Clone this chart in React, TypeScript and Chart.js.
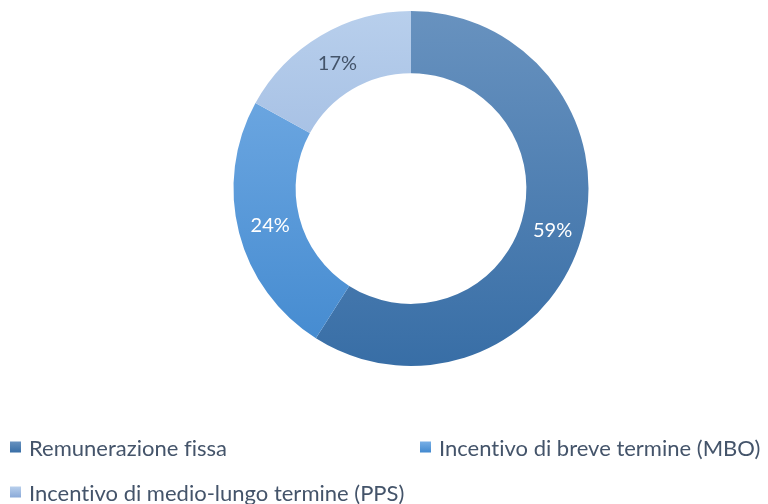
import React, { useEffect, useRef } from "react";
import { Chart, registerables } from "chart.js";

Chart.register(...registerables);

const categories = [
  "Remunerazione fissa",
  "Incentivo di breve termine (MBO)",
  "Incentivo di medio-lungo termine (PPS)",
];
const values = [59, 24, 17];
const labelColors = ["#ffffff", "#ffffff", "#44546a"];
const gradientStops: [string, string][] = [
  ["#6892bf", "#386ea6"],
  ["#78afe6", "#4289cf"],
  ["#b8cfec", "#8aa9d8"],
];

const FONT = "Lato, 'Open Sans', 'DejaVu Sans', sans-serif";

const labelPlugin = {
  id: "sliceLabels",
  afterDatasetsDraw(chart: any) {
    const { ctx } = chart;
    const meta = chart.getDatasetMeta(0);
    ctx.save();
    ctx.font = `20px ${FONT}`;
    ctx.textAlign = "center";
    ctx.textBaseline = "middle";
    meta.data.forEach((arc: any, i: number) => {
      const p = arc.tooltipPosition();
      ctx.fillStyle = labelColors[i];
      ctx.fillText(values[i] + "%", p.x + 1, p.y + 1);
    });
    ctx.restore();
  },
};

function makeGradient(chart: any, i: number) {
  const area = chart.chartArea;
  if (!area) return gradientStops[i][0];
  const g = chart.ctx.createLinearGradient(0, area.top, 0, area.bottom);
  g.addColorStop(0, gradientStops[i][0]);
  g.addColorStop(1, gradientStops[i][1]);
  return g;
}

export default function App() {
  const ref = useRef<HTMLCanvasElement>(null);
  useEffect(() => {
    document.body.style.margin = "0";
    const chart = new Chart(ref.current!, {
      type: "doughnut",
      data: {
        labels: categories,
        datasets: [
          {
            data: values,
            backgroundColor: (c: any) => makeGradient(c.chart, c.dataIndex),
            borderWidth: 0,
          },
        ],
      },
      options: {
        animation: false,
        responsive: false,
        cutout: "65%",
        layout: { padding: { top: 11, bottom: 138, left: 233, right: 179 } },
        plugins: { legend: { display: false }, tooltip: { enabled: false } },
      },
      plugins: [labelPlugin],
    });
    return () => chart.destroy();
  }, []);

  const legendPos = [
    { left: 10, top: 447 },
    { left: 420, top: 447 },
    { left: 10, top: 492 },
  ];

  return (
    <div style={{ position: "relative", width: 768, height: 504, background: "#fff" }}>
      <canvas ref={ref} width={768} height={504} style={{ display: "block" }} />
      {categories.map((c, i) => (
        <div
          key={c}
          style={{
            position: "absolute",
            left: legendPos[i].left,
            top: legendPos[i].top,
            transform: "translateY(-50%)",
            display: "flex",
            alignItems: "center",
            fontFamily: FONT,
            fontSize: 22,
            color: "#44546a",
            whiteSpace: "nowrap",
            fontVariantLigatures: "none",
          }}
        >
          <span
            style={{
              display: "inline-block",
              width: 11,
              height: 11,
              marginRight: 8,
              background: `linear-gradient(${gradientStops[i][0]}, ${gradientStops[i][1]})`,
            }}
          />
          {c}
        </div>
      ))}
    </div>
  );
}
